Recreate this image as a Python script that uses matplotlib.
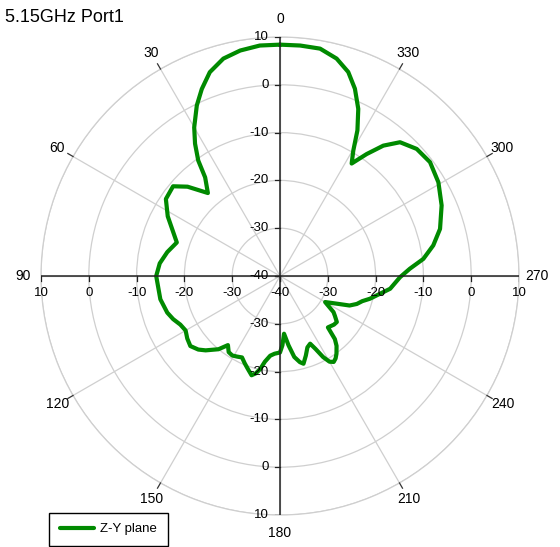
import numpy as np
import matplotlib
matplotlib.use('Agg')
import matplotlib.pyplot as plt

plt.rcParams['font.family'] = ['Liberation Sans', 'DejaVu Sans']

# pattern: angle (deg, CCW from top) and gain (dB)
angles = [0, 5, 10, 14.6, 19, 22.7, 26, 30, 32.7, 35.3, 37.2, 41, 46, 50, 56,
          62, 67, 72, 78, 84, 90, 101, 108, 112, 116, 120, 124, 128, 132, 135,
          140, 143, 146, 149, 152, 155, 158, 161, 164, 166, 168, 170, 173, 176,
          180, 182, 184, 187, 190, 193, 195, 198, 201, 204, 206, 208, 210, 212,
          214, 216, 219, 221, 223, 228, 231, 234, 236, 240, 244, 247, 250, 253,
          255.8, 258.6, 263.4, 269.4, 273.2, 276.8, 281.3, 286.4, 293.6, 300.6,
          307.2, 312.9, 318.1, 321.6, 324.6, 327.5, 329.7, 332, 334.9, 338.2,
          341.5, 345.4, 350, 355, 360]
gain = [8.4, 8.4, 7.9, 7.0, 5.1, 2.4, -0.3, -4.1, -7.1, -10.4, -14.1, -17.0,
        -13.1, -10.8, -11.2, -13.4, -15.6, -17.3, -15.9, -14.7, -14.1, -14.5,
        -15.2, -15.9, -16.8, -17.2, -16.6, -16.2, -17.0, -18.0, -20.0, -21.9,
        -20.8, -20.6, -20.9, -21.2, -20.3, -19.4, -18.4, -19.0, -20.1, -21.8,
        -23.2, -23.7, -24.0, -25.5, -27.9, -25.4, -22.8, -21.5, -21.0, -22.5,
        -24.0, -24.5, -23.0, -20.8, -19.3, -18.8, -19.2, -19.9, -21.2, -22.5,
        -25.3, -24.8, -24.7, -25.8, -26.5, -29.1, -26.8, -24.2, -22.9, -22.0,
        -20.6, -19.4, -16.8, -14.9, -12.8, -9.8, -7.3, -5.1, -3.1, -1.5,
        -0.6, -0.95, -2.4, -5.2, -8.7, -12.1, -9.6, -5.5, -1.4, 2.2,
        5.0, 7.0, 8.3, 8.4, 8.4]

r_min, r_max = -40, 10
ring_vals = [-30, -20, -10, 0, 10]
axis_vals = [-40, -30, -20, -10, 0, 10]
angle_ticks = list(range(0, 360, 30))
title = '5.15GHz Port1'
series_name = 'Z-Y plane'

green = '#008a00'
grid_gray = '#cfcfcf'

fig = plt.figure(figsize=(5.6, 5.47), dpi=100)
rect = [41 / 560, 32 / 547, 478 / 560, 478 / 547]

ax = fig.add_axes(rect, projection='polar')
ax.set_theta_zero_location('N')
ax.set_theta_direction(1)
ax.set_rlim(r_min, r_max)
ax.set_thetagrids(angle_ticks, labels=[''] * len(angle_ticks))
ax.set_rgrids(ring_vals, labels=[''] * len(ring_vals))
ax.grid(True, color=grid_gray, lw=0.9)
ax.spines['polar'].set_color(grid_gray)
ax.spines['polar'].set_linewidth(0.9)
ax.tick_params(length=0)

line, = ax.plot(np.deg2rad(angles), gain, color=green, lw=3, label=series_name,
                solid_joinstyle='round', solid_capstyle='round', zorder=5)

# cartesian overlay for the black cross axes, their ticks and labels
ov = fig.add_axes(rect, frameon=False)
span = r_max - r_min
ov.set_xlim(-span, span)
ov.set_ylim(-span, span)
ov.axis('off')

ov.plot([-span, span], [0, 0], color='#222222', lw=1.1, zorder=3)
ov.plot([0, 0], [-span, span], color='#222222', lw=1.1, zorder=3)

tick_len = 1.1
for v in axis_vals:
    d = v - r_min
    for s in (1, -1):
        ov.plot([0, -tick_len], [s * d, s * d], color='#222222', lw=0.9)
        ov.plot([s * d, s * d], [0, -tick_len], color='#222222', lw=0.9)
        if d == 0 and s == -1:
            continue
        ov.text(-2.3, s * d, str(v), ha='right', va='center', fontsize=9.5)
        ov.text(s * d, -2.4, str(v), ha='center', va='top', fontsize=9.5)

lab_r = span * 1.075
for a in angle_ticks:
    t = np.deg2rad(a)
    x, y = -np.sin(t), np.cos(t)
    if a % 90:
        ov.plot([x * span, x * span * 1.025], [y * span, y * span * 1.025],
                color='#333333', lw=0.9, clip_on=False)
    ov.text(x * lab_r, y * lab_r, str(a), ha='center', va='center',
            fontsize=10, clip_on=False)

fig.text(5 / 560, 1 - 18 / 547, title, fontsize=13, ha='left', va='center')

fig.legend(handles=[line], loc='lower left',
           bbox_to_anchor=(49 / 560, 1 / 547), borderaxespad=0,
           fancybox=False, edgecolor='black', framealpha=1, fontsize=9.5,
           handlelength=2.6, borderpad=0.8, handletextpad=0.5)

fig.savefig('out.png', dpi=100)
